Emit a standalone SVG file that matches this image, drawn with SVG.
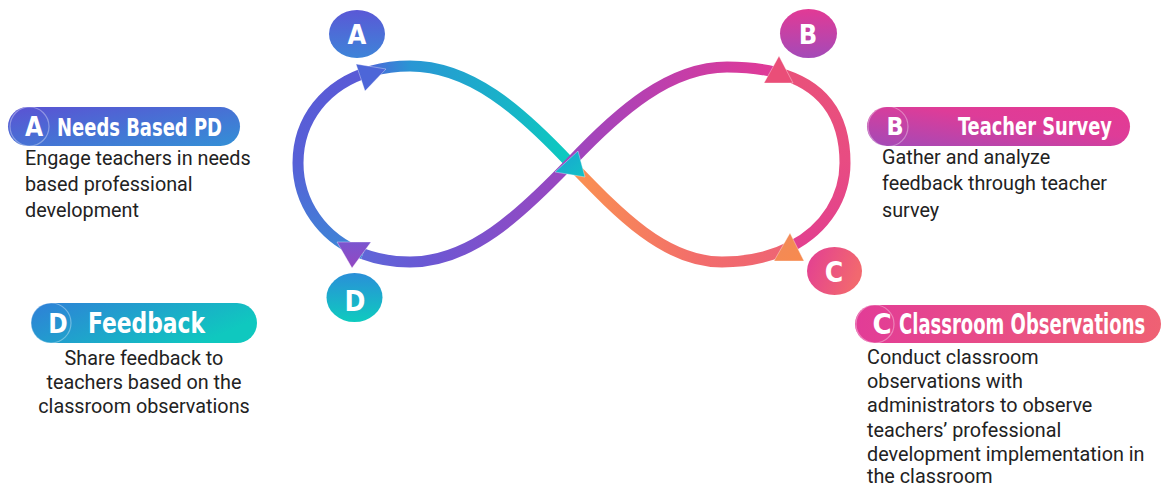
<svg xmlns="http://www.w3.org/2000/svg" width="1163" height="486" viewBox="0 0 1163 486">
<style>
.loop{fill:none;stroke-width:11;stroke-linecap:butt}
.hd{font-family:"DejaVu Sans Condensed","DejaVu Sans",sans-serif;font-stretch:condensed;font-weight:bold;fill:#fff}
.ltr{font-family:"DejaVu Sans Condensed","DejaVu Sans",sans-serif;font-stretch:condensed;font-weight:bold;fill:#fff;text-anchor:middle}
.body{font-family:Roboto,"Liberation Sans",sans-serif;font-size:19.8px;fill:#222}
.ring{fill:none;stroke:#fff;stroke-opacity:0.35;stroke-width:1.2}
.arr{stroke:#fff;stroke-opacity:0.45;stroke-width:0.8}
</style>
<defs>
<linearGradient id="gS1" gradientUnits="userSpaceOnUse" x1="371" y1="0" x2="570" y2="0"><stop offset="0" stop-color="#4b69d8"/><stop offset="0.2" stop-color="#2996d4"/><stop offset="0.7" stop-color="#18b4c8"/><stop offset="1" stop-color="#0ccbbf"/></linearGradient>
<linearGradient id="gS2" gradientUnits="userSpaceOnUse" x1="0" y1="71" x2="0" y2="254"><stop offset="0" stop-color="#5a5ad6"/><stop offset="0.5" stop-color="#5760d7"/><stop offset="1" stop-color="#3d86d6"/></linearGradient>
<linearGradient id="gS3" gradientUnits="userSpaceOnUse" x1="363" y1="0" x2="570" y2="0"><stop offset="0" stop-color="#5f66d8"/><stop offset="0.3" stop-color="#6a58d4"/><stop offset="1" stop-color="#9c46bf"/></linearGradient>
<linearGradient id="gS4" gradientUnits="userSpaceOnUse" x1="570" y1="0" x2="776" y2="0"><stop offset="0" stop-color="#9c46bf"/><stop offset="0.5" stop-color="#c23eaa"/><stop offset="1" stop-color="#e23a96"/></linearGradient>
<linearGradient id="gS5" gradientUnits="userSpaceOnUse" x1="0" y1="72" x2="0" y2="247"><stop offset="0" stop-color="#e9517a"/><stop offset="0.5" stop-color="#e84c82"/><stop offset="1" stop-color="#e2408f"/></linearGradient>
<linearGradient id="gS6" gradientUnits="userSpaceOnUse" x1="791" y1="0" x2="570" y2="0"><stop offset="0" stop-color="#ee6474"/><stop offset="0.4" stop-color="#f26c6c"/><stop offset="1" stop-color="#fa9250"/></linearGradient>
<linearGradient id="gEA" x1="0" y1="0" x2="0" y2="1"><stop offset="0" stop-color="#5a58d6"/><stop offset="1" stop-color="#3e84d8"/></linearGradient>
<linearGradient id="gEB" x1="0" y1="0" x2="0" y2="1"><stop offset="0" stop-color="#e23a95"/><stop offset="1" stop-color="#a44ab8"/></linearGradient>
<linearGradient id="gEC" x1="0" y1="0" x2="1" y2="0.3"><stop offset="0" stop-color="#e23e94"/><stop offset="1" stop-color="#f2686f"/></linearGradient>
<linearGradient id="gED" x1="0" y1="0" x2="0" y2="1"><stop offset="0" stop-color="#2a8fd8"/><stop offset="1" stop-color="#0ecbbf"/></linearGradient>
<linearGradient id="gPA" x1="0" y1="0" x2="1" y2="1"><stop offset="0" stop-color="#5b52d3"/><stop offset="1" stop-color="#3390d6"/></linearGradient>
<linearGradient id="gPB" x1="0" y1="1" x2="1" y2="0"><stop offset="0" stop-color="#a24ab8"/><stop offset="0.6" stop-color="#de3c98"/><stop offset="1" stop-color="#e53a92"/></linearGradient>
<linearGradient id="gPC" x1="0" y1="0" x2="1" y2="0"><stop offset="0" stop-color="#e23c97"/><stop offset="1" stop-color="#ef6173"/></linearGradient>
<linearGradient id="gPD" x1="0" y1="0" x2="1" y2="0.4"><stop offset="0" stop-color="#2f7fd8"/><stop offset="1" stop-color="#0fc8bf"/></linearGradient>
<linearGradient id="gAD" x1="0" y1="0" x2="0" y2="1"><stop offset="0" stop-color="#7a55cf"/><stop offset="1" stop-color="#9448c2"/></linearGradient>
<linearGradient id="gAX" x1="0" y1="0" x2="1" y2="1"><stop offset="0" stop-color="#1aa2d4"/><stop offset="1" stop-color="#12c2c4"/></linearGradient>
<linearGradient id="gAC" x1="0" y1="0" x2="1" y2="1"><stop offset="0" stop-color="#f08a5a"/><stop offset="1" stop-color="#f88a4e"/></linearGradient>
</defs>

<g id="connectors">
<path class="loop" stroke="url(#gS6)" d="M791.3,246.5 C772.6,256.2 749.3,262 722,262 C665,262 620,215 570,163"/>
<path class="loop" stroke="url(#gS1)" d="M371.5,71 C383.1,67.8 396,66 410,66 C470,66 520,110 570,163"/>
<path class="loop" stroke="url(#gS2)" d="M371.5,71 C324.9,84 298,120.6 298,163 C298,202 321.6,238.2 363,253.9"/>
<path class="loop" stroke="url(#gS3)" d="M363,253.9 C376.75,259.06 392.5,262 410,262 C470,262 520,215 570,163"/>
<path class="loop" stroke="url(#gS4)" d="M570,163 C620,110 670,67 727,67 C745.7,67 761.9,68.8 775.75,72.3"/>
<path class="loop" stroke="url(#gS5)" d="M775.75,72.3 C824.9,84.7 845,117.8 845,163 C845,196.8 826,228.5 791.3,246.5"/>
<polygon class="arr" fill="#4d66d8" points="356,64 386,69 365,91"/>
<polygon class="arr" fill="url(#gAD)" points="337,242 371,242 352,268"/>
<polygon class="arr" fill="url(#gAX)" points="555,172 578,151 585,177"/>
<polygon class="arr" fill="#ea4e78" points="764,83 779,56 793,83"/>
<polygon class="arr" fill="url(#gAC)" points="774,261 790,233 804,261"/>
</g>

<g id="markerA">
<ellipse cx="357" cy="34" rx="28" ry="24" fill="url(#gEA)"/>
<text class="ltr" x="357" y="44" font-size="27">A</text>
</g>
<g id="markerB">
<ellipse cx="808.5" cy="33.5" rx="28.5" ry="24.5" fill="url(#gEB)"/>
<text class="ltr" x="808" y="44" font-size="27">B</text>
</g>
<g id="markerC">
<ellipse cx="834.5" cy="271" rx="27.5" ry="24" fill="url(#gEC)"/>
<text class="ltr" x="834" y="282" font-size="28">C</text>
</g>
<g id="markerD">
<ellipse cx="354.5" cy="297.5" rx="28" ry="24.5" fill="url(#gED)"/>
<text class="ltr" x="355" y="311" font-size="28">D</text>
</g>

<g id="nodeA">
<rect x="8" y="107" width="232" height="39" rx="19.5" fill="url(#gPA)"/>
<circle class="ring" cx="29.5" cy="126.5" r="19.5"/>
<text class="ltr" x="34" y="136" font-size="26">A</text>
<text class="hd" x="57" y="136" font-size="24" textLength="165" lengthAdjust="spacingAndGlyphs">Needs Based PD</text>
<text class="body" x="25" y="165">Engage teachers in needs</text>
<text class="body" x="25" y="191">based professional</text>
<text class="body" x="25" y="217">development</text>
</g>

<g id="nodeB">
<rect x="867" y="107" width="263" height="39" rx="19.5" fill="url(#gPB)"/>
<circle class="ring" cx="888" cy="126.5" r="20"/>
<text class="ltr" x="895" y="135" font-size="25">B</text>
<text class="hd" x="958" y="135" font-size="25" textLength="154" lengthAdjust="spacingAndGlyphs">Teacher Survey</text>
<text class="body" x="882" y="164">Gather and analyze</text>
<text class="body" x="882" y="190">feedback through teacher</text>
<text class="body" x="882" y="217">survey</text>
</g>

<g id="nodeC">
<rect x="855" y="305" width="306" height="38" rx="19" fill="url(#gPC)"/>
<circle class="ring" cx="875" cy="324" r="19"/>
<text class="ltr" x="882" y="334" font-size="29">C</text>
<text class="hd" transform="translate(899,334) scale(0.715,1)" x="0" y="0" font-size="28">Classroom Observations</text>
<text class="body" x="867" y="364">Conduct classroom</text>
<text class="body" x="867" y="388">observations with</text>
<text class="body" x="867" y="412">administrators to observe</text>
<text class="body" x="867" y="437">teachers’ professional</text>
<text class="body" x="867" y="461">development implementation in</text>
<text class="body" x="867" y="483">the classroom</text>
</g>

<g id="nodeD">
<rect x="31" y="303" width="226" height="40" rx="20" fill="url(#gPD)"/>
<circle class="ring" cx="51" cy="323" r="20"/>
<text class="ltr" x="58" y="333" font-size="26">D</text>
<text class="hd" x="88" y="333" font-size="29" textLength="117" lengthAdjust="spacingAndGlyphs">Feedback</text>
<text class="body" x="144" y="365" text-anchor="middle">Share feedback to</text>
<text class="body" x="144" y="389" text-anchor="middle">teachers based on the</text>
<text class="body" x="144" y="413" text-anchor="middle">classroom observations</text>
</g>
</svg>
